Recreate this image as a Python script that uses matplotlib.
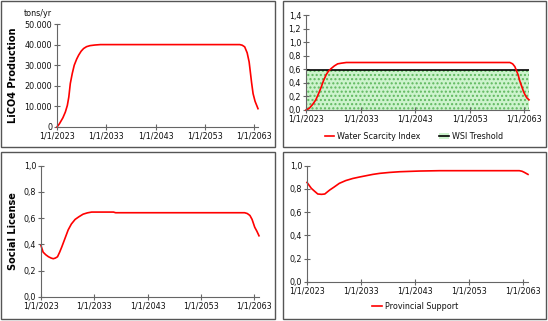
import matplotlib
matplotlib.use("Agg")
import matplotlib.pyplot as plt
from matplotlib.patches import Rectangle, Patch
from matplotlib.lines import Line2D

# values
lico_years = [2023.0, 2023.5, 2024.2, 2024.7, 2025.1, 2025.4, 2025.7, 2026.1, 2026.5, 2027.0,
              2027.4, 2027.9, 2028.4, 2029.0, 2029.7, 2030.7, 2031.8, 2033.0, 2060.1, 2060.6,
              2061.1, 2061.6, 2062.0, 2062.2, 2062.5, 2062.8, 2063.2, 2063.8]
lico_values = [0, 1600, 4500, 7300, 10500, 14600, 21100, 26000, 30000, 33000,
               34900, 36800, 38100, 39000, 39500, 39800, 40000, 40000, 40000, 39700,
               38900, 36000, 31600, 27600, 21500, 16200, 12500, 8900]

wsi_years = [2023.0, 2023.6, 2024.2, 2024.8, 2025.3, 2025.8, 2026.2, 2026.7, 2027.1, 2027.6,
             2028.2, 2028.8, 2029.5, 2030.4, 2060.4, 2060.9, 2061.3, 2061.6, 2061.9, 2062.2,
             2062.6, 2062.9, 2063.2, 2063.5, 2063.9]
wsi_values = [0.0, 0.025, 0.08, 0.15, 0.24, 0.34, 0.43, 0.52, 0.57, 0.61,
              0.65, 0.68, 0.69, 0.70, 0.70, 0.68, 0.64, 0.58, 0.52, 0.43,
              0.34, 0.27, 0.22, 0.18, 0.15]
wsi_threshold = 0.59

soc_years = [2023.0, 2023.4, 2023.9, 2024.4, 2024.9, 2025.3, 2025.7, 2026.1, 2026.5, 2026.9,
             2027.5, 2028.1, 2028.7, 2029.4, 2030.1, 2030.9, 2031.7, 2032.5, 2036.6, 2037.0,
             2061.2, 2061.7, 2062.2, 2062.6, 2063.1, 2063.5, 2063.9]
soc_values = [0.39, 0.34, 0.32, 0.305, 0.295, 0.29, 0.295, 0.305, 0.34, 0.38,
              0.445, 0.51, 0.555, 0.59, 0.61, 0.63, 0.64, 0.646, 0.646, 0.641,
              0.641, 0.635, 0.62, 0.59, 0.53, 0.50, 0.465]

prov_years = [2023.0, 2023.8, 2024.4, 2025.0, 2025.7, 2026.3, 2026.8, 2027.2, 2028.0, 2029.0,
              2030.2, 2031.5, 2032.8, 2034.0, 2035.2, 2036.5, 2038.3, 2040.2, 2042.0, 2043.9,
              2047.6, 2062.4, 2062.9, 2063.3, 2064.0]
prov_values = [0.856, 0.805, 0.78, 0.756, 0.753, 0.756, 0.775, 0.79, 0.815, 0.848,
               0.872, 0.89, 0.903, 0.914, 0.925, 0.934, 0.942, 0.948, 0.951, 0.954,
               0.957, 0.957, 0.952, 0.943, 0.925]

x_ticks = [2023, 2033, 2043, 2053, 2063]
x_labels = ["1/1/2023", "1/1/2033", "1/1/2043", "1/1/2053", "1/1/2063"]

W, H = 548, 321
RED = "#ff0000"
AXC = "#666666"
FS = 5.8


def box(l, t, r, b):
    return [l / W, 1 - b / H, (r - l) / W, (b - t) / H]


fig = plt.figure(figsize=(W / 100, H / 100), dpi=100)
fig.patch.set_facecolor("white")

# panel frames
for l, t, r, b in [(1, 1, 275, 147), (283, 1, 546, 147), (1, 152, 275, 319), (283, 152, 546, 319)]:
    fig.add_artist(Rectangle((l / W, 1 - b / H), (r - l) / W, (b - t) / H,
                             transform=fig.transFigure, fill=False,
                             edgecolor="#555555", lw=1))


def style(ax, xmax, yticks, ylabels):
    for side in ["top", "right"]:
        ax.spines[side].set_visible(False)
    for side in ["left", "bottom"]:
        ax.spines[side].set_color(AXC)
        ax.spines[side].set_linewidth(0.8)
    ax.set_xlim(2023, xmax)
    ax.set_ylim(yticks[0], yticks[-1])
    ax.set_xticks(x_ticks, x_labels)
    ax.set_yticks(yticks, ylabels)
    ax.tick_params(direction="inout", length=5, width=0.8, color=AXC,
                   labelcolor="#111111", labelsize=FS, pad=1)
    ax.set_facecolor("none")


# LiCO4 production
ax1 = fig.add_axes(box(57, 24, 258, 127))
ax1.plot(lico_years, lico_values, color=RED, lw=1.2, clip_on=False)
style(ax1, 2063.8, [0, 10000, 20000, 30000, 40000, 50000],
      ["0", "10.000", "20.000", "30.000", "40.000", "50.000"])
ax1.set_ylabel("LiCO4 Production", fontsize=7, fontweight="bold")
ax1.yaxis.set_label_coords((18 - 57) / 201, 0.5)
fig.text(38 / W, 1 - 13 / H, "tons/yr", fontsize=FS, color="#111111", ha="center", va="center")

# Water scarcity index
ax2 = fig.add_axes(box(306, 15, 529, 110))
ax2.fill_between([2023, 2063.9], [0, 0], [wsi_threshold, wsi_threshold],
                 facecolor="#cdf3cd", edgecolor="#5fb85f", hatch="....", lw=0)
ax2.plot([2023, 2063.9], [wsi_threshold, wsi_threshold], color="black", lw=1.2)
ax2.plot(wsi_years, wsi_values, color=RED, lw=1.2, clip_on=False)
style(ax2, 2063.9, [0, 0.2, 0.4, 0.6, 0.8, 1.0, 1.2, 1.4],
      ["0,0", "0,2", "0,4", "0,6", "0,8", "1,0", "1,2", "1,4"])
h_wsi = Line2D([], [], color=RED, lw=1.2)
h_thr = (Patch(facecolor="#cdf3cd", edgecolor="none"), Line2D([], [], color="black", lw=1.2))
fig.legend([h_wsi, h_thr], ["Water Scarcity Index", "WSI Treshold"], loc="center",
           bbox_to_anchor=(414 / W, 1 - 136 / H), ncol=2, frameon=False, fontsize=FS,
           handlelength=1.2, handletextpad=0.4, columnspacing=2.3, labelcolor="#111111")

# Social license
ax3 = fig.add_axes(box(41, 165.7, 259, 296.7))
ax3.plot(soc_years, soc_values, color=RED, lw=1.2, clip_on=False)
style(ax3, 2063.9, [0, 0.2, 0.4, 0.6, 0.8, 1.0], ["0,0", "0,2", "0,4", "0,6", "0,8", "1,0"])
ax3.set_ylabel("Social License", fontsize=7, fontweight="bold")
ax3.yaxis.set_label_coords((18 - 41) / 218, 0.5)

# Provincial support
ax4 = fig.add_axes(box(307, 165.7, 528, 281.7))
ax4.plot(prov_years, prov_values, color=RED, lw=1.2, clip_on=False)
style(ax4, 2064.0, [0, 0.2, 0.4, 0.6, 0.8, 1.0], ["0,0", "0,2", "0,4", "0,6", "0,8", "1,0"])
fig.legend([Line2D([], [], color=RED, lw=1.2)], ["Provincial Support"], loc="center",
           bbox_to_anchor=(415 / W, 1 - 306.7 / H), frameon=False, fontsize=FS,
           handlelength=1.2, handletextpad=0.4, labelcolor="#111111")

fig.savefig("out.png", dpi=100)
